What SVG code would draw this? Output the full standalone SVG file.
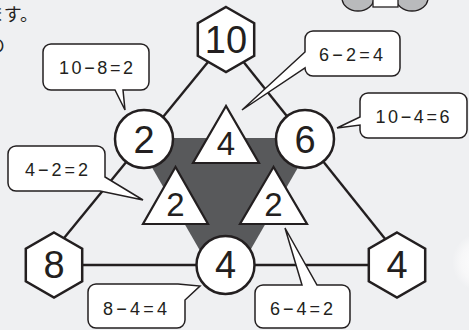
<svg xmlns="http://www.w3.org/2000/svg" width="469" height="330" viewBox="0 0 469 330">
<defs>
<style>
.ln{stroke:#231f20;stroke-width:2.4;fill:none;stroke-linecap:butt}
.hex,.cir{fill:#fff;stroke:#231f20;stroke-width:2.5}
.tri{fill:#fff;stroke:#231f20;stroke-width:2.2;stroke-linejoin:miter}
.big{font-family:"Liberation Sans",Arial,sans-serif;font-size:38px;fill:#231f20;text-anchor:middle}
.mid{font-family:"Liberation Sans",Arial,sans-serif;font-size:33px;fill:#231f20;text-anchor:middle}
.co{fill:#fff;stroke:#231f20;stroke-width:1.5;stroke-linejoin:miter}
.ct{font-family:"Liberation Sans",Arial,sans-serif;font-size:18px;fill:#231f20;text-anchor:middle}
.jp{font-family:"Noto Sans CJK JP","Noto Sans CJK SC",sans-serif;font-size:18px;fill:#231f20;text-anchor:end}
</style>
<polygon id="hexshape" points="0,-32.5 28.2,-16.25 28.2,16.25 0,32.5 -28.2,16.25 -28.2,-16.25"/>
<radialGradient id="glow" cx="0.5" cy="0.5" r="0.5">
<stop offset="0" stop-color="#ffffff"/>
<stop offset="0.7" stop-color="#f7f7f8"/>
<stop offset="1" stop-color="#eff0f2"/>
</radialGradient>
</defs>
<rect x="0" y="0" width="469" height="330" fill="#eff0f2"/>
<g id="bg-text">
<text class="jp" x="38" y="21">ます。</text>
<text class="jp" x="5" y="52">の</text>
</g>
<g id="corner-figure">
<ellipse cx="358" cy="-2" rx="16" ry="13" fill="#b9babc" stroke="#231f20" stroke-width="1.3"/>
<ellipse cx="412" cy="-2" rx="16" ry="13" fill="#b9babc" stroke="#231f20" stroke-width="1.3"/>
<rect x="373" y="-3" width="25" height="10" fill="#fff" stroke="#231f20" stroke-width="1.3"/>
</g>
<g id="edge-glow">
<ellipse cx="482" cy="262" rx="30" ry="30" fill="url(#glow)"/>
</g>
<g id="connectors">
<line class="ln" x1="226" y1="40" x2="42" y2="265"/>
<line class="ln" x1="226" y1="40" x2="406" y2="265"/>
<line class="ln" x1="54" y1="265" x2="397" y2="265"/>
</g>
<g id="center-shade">
<polygon points="135,138 315,138 225,294" fill="#58595b"/>
</g>
<g id="hex-top">
<use href="#hexshape" class="hex" transform="translate(226,39.5)"/>
<text class="big" x="226" y="53">10</text>
</g>
<g id="hex-left">
<use href="#hexshape" class="hex" transform="translate(54,265)"/>
<text class="big" x="54" y="278">8</text>
</g>
<g id="hex-right">
<use href="#hexshape" class="hex" transform="translate(397,265)"/>
<text class="big" x="397" y="278">4</text>
</g>
<g id="circle-left">
<circle class="cir" cx="144" cy="139" r="29"/>
<text class="big" x="144" y="153">2</text>
</g>
<g id="circle-right">
<circle class="cir" cx="305" cy="139" r="29"/>
<text class="big" x="305" y="153">6</text>
</g>
<g id="circle-bottom">
<circle class="cir" cx="225.5" cy="265" r="29"/>
<text class="big" x="225.5" y="278">4</text>
</g>
<g id="tri-top">
<polygon class="tri" points="226,106 193,163 259,163"/>
<text class="mid" x="226" y="155">4</text>
</g>
<g id="tri-left">
<polygon class="tri" points="175.5,167 143,224 208,224"/>
<text class="mid" x="175.5" y="216">2</text>
</g>
<g id="tri-right">
<polygon class="tri" points="273.5,167 240,224 307,224"/>
<text class="mid" x="273.5" y="216">2</text>
</g>
<g id="callout-10-8">
<path class="co" d="M51,44 H141 A8,8 0 0 1 149,52 V82 A8,8 0 0 1 141,90 H123 L125,110 L115,90 H51 A8,8 0 0 1 43,82 V52 A8,8 0 0 1 51,44 Z"/>
<text class="ct" x="96" y="74" textLength="74" lengthAdjust="spacing">10−8=2</text>
</g>
<g id="callout-6-2">
<path class="co" d="M313,31 H392 A8,8 0 0 1 400,39 V68 A8,8 0 0 1 392,76 H313 A8,8 0 0 1 305,68 L242,110 L305,52 V39 A8,8 0 0 1 313,31 Z"/>
<text class="ct" x="351" y="61" textLength="64" lengthAdjust="spacing">6−2=4</text>
</g>
<g id="callout-10-4">
<path class="co" d="M368,93 H459 A8,8 0 0 1 467,101 V130 A8,8 0 0 1 459,138 H368 A8,8 0 0 1 360,130 V125 L337,128 L360,117 V101 A8,8 0 0 1 368,93 Z"/>
<text class="ct" x="412.5" y="123" textLength="74" lengthAdjust="spacing">10−4=6</text>
</g>
<g id="callout-4-2">
<path class="co" d="M16,146 H97 A8,8 0 0 1 105,154 V177 L143,200 L100,191 H16 A8,8 0 0 1 8,183 V154 A8,8 0 0 1 16,146 Z"/>
<text class="ct" x="56.5" y="176" textLength="63" lengthAdjust="spacing">4−2=2</text>
</g>
<g id="callout-8-4">
<path class="co" d="M96,284 H178 L200,286 L185,300 V320 A8,8 0 0 1 177,328 H96 A8,8 0 0 1 88,320 V292 A8,8 0 0 1 96,284 Z"/>
<text class="ct" x="135" y="315" textLength="64" lengthAdjust="spacing">8−4=4</text>
</g>
<g id="callout-6-4">
<path class="co" d="M263,285 H302 L285,228 L317,285 H342 A8,8 0 0 1 350,293 V320 A8,8 0 0 1 342,328 H263 A8,8 0 0 1 255,320 V293 A8,8 0 0 1 263,285 Z"/>
<text class="ct" x="301.5" y="315" textLength="63" lengthAdjust="spacing">6−4=2</text>
</g>
</svg>
